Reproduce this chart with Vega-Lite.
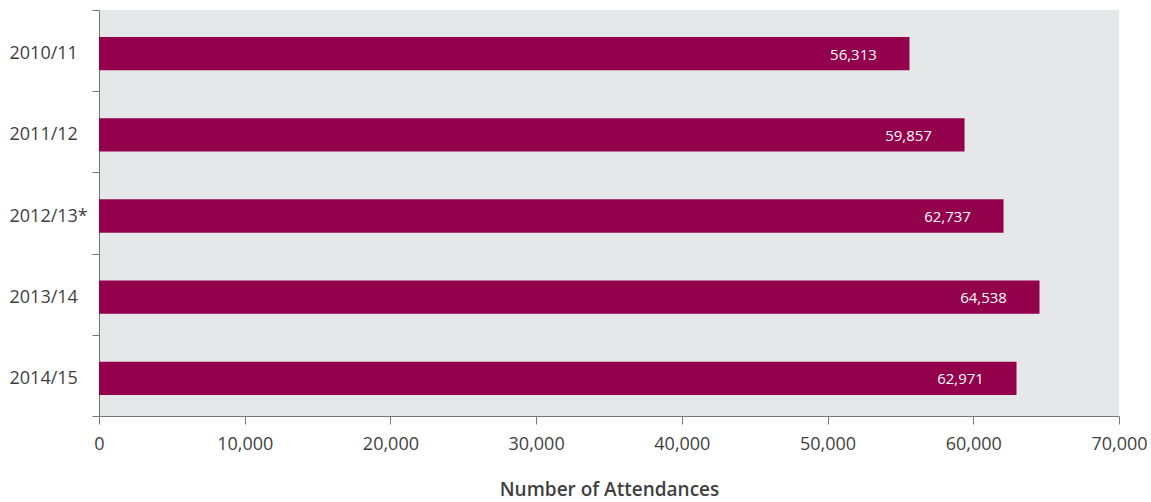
{
  "$schema": "https://vega.github.io/schema/vega-lite/v6.json",
  "width": 1020,
  "height": 406,
  "autosize": "none",
  "padding": {"left": 99, "top": 10, "right": 32, "bottom": 86},
  "background": "white",
  "config": {
    "view": {"fill": "#e6e7e9", "stroke": null},
    "font": "Open Sans"
  },
  "data": {
    "values": [
      {"year": "2010/11", "value": 55620, "label": "56,313"},
      {"year": "2011/12", "value": 59400, "label": "59,857"},
      {"year": "2012/13*", "value": 62075, "label": "62,737"},
      {"year": "2013/14", "value": 64545, "label": "64,538"},
      {"year": "2014/15", "value": 62967, "label": "62,971"}
    ]
  },
  "encoding": {
    "y": {
      "field": "year",
      "type": "nominal",
      "sort": null,
      "scale": {"paddingInner": 0, "paddingOuter": 0},
      "axis": {
        "title": null,
        "tickBand": "extent",
        "tickSize": 7,
        "tickColor": "#777777",
        "domainColor": "#777777",
        "labelAlign": "left",
        "labelPadding": 83,
        "labelFontSize": 18,
        "labelColor": "#3f3f3f",
        "labelFont": "Open Sans",
        "labelOffset": 3
      }
    }
  },
  "layer": [
    {
      "mark": {"type": "bar", "color": "#93004b", "height": {"band": 0.41}, "yOffset": 3},
      "encoding": {
        "x": {
          "field": "value",
          "type": "quantitative",
          "scale": {"domain": [0, 70000], "nice": false},
          "axis": {
            "title": "Number of Attendances",
            "titleFontSize": 19,
            "titleFontWeight": 600,
            "titleColor": "#3f3f3f",
            "titlePadding": 27,
            "values": [0, 10000, 20000, 30000, 40000, 50000, 60000, 70000],
            "format": ",d",
            "grid": false,
            "tickSize": 8,
            "tickColor": "#777777",
            "domainColor": "#777777",
            "labelFontSize": 18,
            "labelColor": "#3f3f3f",
            "labelPadding": 11,
            "labelFlush": false
          }
        }
      }
    },
    {
      "mark": {"type": "text", "color": "white", "fontSize": 15, "align": "center", "dx": -56, "baseline": "middle", "dy": 4},
      "encoding": {
        "x": {"field": "value", "type": "quantitative"},
        "text": {"field": "label", "type": "nominal"}
      }
    }
  ]
}
